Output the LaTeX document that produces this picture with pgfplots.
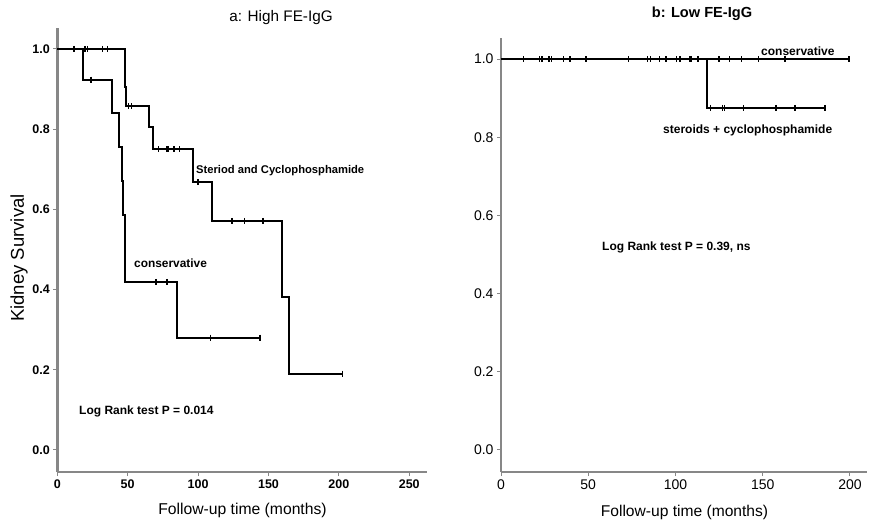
\documentclass[border=0pt]{standalone}
\usepackage{pgfplots}
\pgfplotsset{compat=1.18}
\usepackage{fontspec}
\setmainfont{Liberation Sans}
\begin{document}
\begin{tikzpicture}
\path[use as bounding box] (0pt,0pt) rectangle (878pt,-530pt);
\pgfplotsset{
  km/.style={
    scale only axis, clip=false,
    axis lines*=left,
    axis line style={-, draw=black!47, line width=2.6pt},
    tick style={draw=black!47, line width=1pt},
    major tick length=4pt, tick align=outside,
    /pgf/number format/assume math mode=true,
    ytick={0,0.2,0.4,0.6,0.8,1},
    yticklabel style={/pgf/number format/.cd, fixed, fixed zerofill, precision=1},
  },
  kmstep/.style={const plot, black, line width=2pt},
  kmcens/.style={only marks, mark=|, mark size=3pt, black, line width=1.4pt},
}
% ---------- left panel ----------
\begin{axis}[km,
  at={(57.3pt,-472pt)}, anchor=south west,
  width=369.7pt, height=444pt,
  xmin=0, xmax=262.6, ymin=-0.055, ymax=1.052,
  xtick={0,50,100,150,200,250},
  ticklabel style={font=\fontsize{12.5}{12.5}\selectfont\bfseries},
]
\addplot[kmstep] coordinates {(0,1) (18,0.923) (39,0.839) (44,0.755) (46,0.671) (47,0.587) (48,0.419) (85,0.280) (144,0.280)};
\addplot[kmcens] coordinates {(12,1) (24,0.923) (70,0.419) (78,0.419) (109,0.280) (144,0.280)};
\addplot[kmstep] coordinates {(0,1) (48,0.905) (49,0.857) (65,0.804) (68,0.750) (96.6,0.667) (109.6,0.571) (159.4,0.381) (164.6,0.190) (202.7,0.190)};
\addplot[kmcens] coordinates {(19.6,1) (21.3,1) (32,1) (35.5,1) (50.4,0.857) (52.8,0.857) (71.7,0.75) (78,0.75) (79,0.75) (83,0.75) (87,0.75) (100,0.667) (124,0.571) (133,0.571) (146,0.571) (202.7,0.19)};
\end{axis}
% ---------- right panel ----------
\begin{axis}[km,
  at={(501pt,-472pt)}, anchor=south west,
  width=365.7pt, height=434.3pt,
  xmin=0, xmax=209.6, ymin=-0.0563, ymax=1.0545,
  xtick={0,50,100,150,200},
  ticklabel style={font=\fontsize{14}{14}\selectfont},
]
\addplot[kmstep] coordinates {(0,1) (199.4,1)};
\addplot[kmcens] coordinates {(12.8,1) (22,1) (23.5,1) (27.5,1) (29,1) (35.7,1) (39.5,1) (48.7,1) (73,1) (84,1) (85.8,1) (90.7,1) (94.6,1) (100.7,1) (102.7,1) (107.9,1) (108.9,1) (113,1) (124.9,1) (130.8,1) (137.9,1) (147.5,1) (162.8,1) (199.4,1)};
\addplot[kmstep] coordinates {(0,1) (117.9,0.875) (185.7,0.875)};
\addplot[kmcens] coordinates {(120,0.875) (127,0.875) (128,0.875) (138.9,0.875) (157.6,0.875) (168.5,0.875) (185.7,0.875)};
\end{axis}
% ---------- texts ----------
\node[font=\fontsize{15.3}{15.3}\selectfont] at (281pt,-18pt) {a: High FE-IgG};
\node[font=\fontsize{14.6}{14.6}\selectfont\bfseries] at (702pt,-14pt) {b: Low FE-IgG};
\node[font=\fontsize{15.7}{15.7}\selectfont] at (242.5pt,-510pt) {Follow-up time (months)};
\node[font=\fontsize{15.6}{15.6}\selectfont] at (684.5pt,-512pt) {Follow-up time (months)};
\node[font=\fontsize{18.5}{18.5}\selectfont, rotate=90] at (19pt,-258pt) {Kidney Survival};
\node[font=\fontsize{11.2}{11.2}\selectfont\bfseries, anchor=west, inner sep=0] at (196pt,-171pt) {Steriod and Cyclophosphamide};
\node[font=\fontsize{11.9}{11.9}\selectfont\bfseries, anchor=west, inner sep=0] at (134pt,-263pt) {conservative};
\node[font=\fontsize{12}{12}\selectfont\bfseries, anchor=west, inner sep=0] at (79pt,-411pt) {Log Rank test P = 0.014};
\node[font=\fontsize{12}{12}\selectfont\bfseries, anchor=west, inner sep=0] at (761pt,-51pt) {conservative};
\node[font=\fontsize{12}{12}\selectfont\bfseries, anchor=west, inner sep=0] at (663pt,-130pt) {steroids + cyclophosphamide};
\node[font=\fontsize{12}{12}\selectfont\bfseries, anchor=west, inner sep=0] at (602pt,-247pt) {Log Rank test P = 0.39, ns};
\end{tikzpicture}
\end{document}
